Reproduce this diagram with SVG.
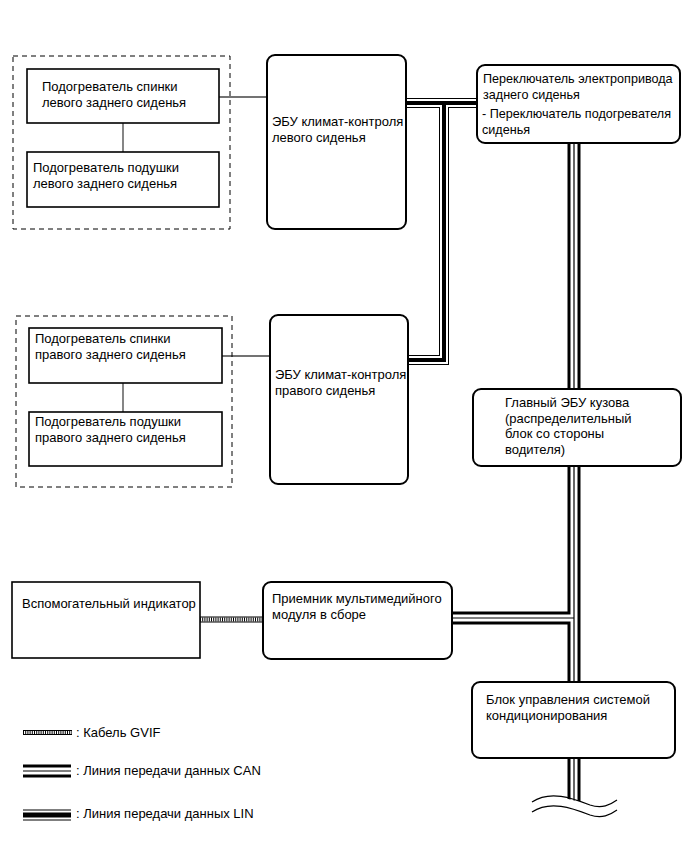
<svg xmlns="http://www.w3.org/2000/svg" width="686" height="856" viewBox="0 0 686 856">
<style>
text{font-family:"Liberation Sans",Arial,sans-serif;font-size:13px;fill:#000}
.sm{font-size:12.6px}
.sq{fill:#fff;stroke:#000;stroke-width:1.6}
.rd{fill:#fff;stroke:#000;stroke-width:2}
.dash{fill:none;stroke:#000;stroke-width:1;stroke-dasharray:5 4}
.thin{fill:none;stroke:#444;stroke-width:1.3}
.canA{fill:none;stroke:#000;stroke-width:13}
.canB{fill:none;stroke:#fff;stroke-width:7}
.canC{fill:none;stroke:#000;stroke-width:1.2}
.linA{fill:none;stroke:#000;stroke-width:10}
.linB{fill:none;stroke:#fff;stroke-width:8}
.linC{fill:none;stroke:#000;stroke-width:4}
.rail{fill:none;stroke:#000;stroke-width:1}
.rung{fill:none;stroke:#000;stroke-width:4;stroke-dasharray:1 1.2}
.wave{fill:none;stroke:#000;stroke-width:1.2}
</style>
<rect width="686" height="856" fill="#fff"/>
<g id="connectors">
  <line class="thin" x1="219" y1="97" x2="267" y2="97"/>
  <line class="thin" x1="123" y1="123" x2="123" y2="152"/>
  <line class="thin" x1="222" y1="356" x2="270" y2="356"/>
  <line class="thin" x1="123" y1="383" x2="123" y2="412"/>
  <g id="lin">
    <path class="linA" d="M406,103 H477 M444,103 V360 H408"/>
    <path class="linB" d="M406,103 H477 M444,103 V360 H408"/>
    <path class="linC" d="M406,103 H477 M444,103 V360 H408"/>
  </g>
  <g id="can">
    <path class="canA" d="M574,143 V801 M452,618 H574"/>
    <path class="canB" d="M574,143 V801 M452,618 H574"/>
    <path class="canC" d="M574,143 V801 M452,618 H574"/>
  </g>
  <g id="gvif">
    <line class="rung" x1="200" y1="619.5" x2="263" y2="619.5"/>
    <line class="rail" x1="200" y1="617" x2="263" y2="617"/>
    <line class="rail" x1="200" y1="622" x2="263" y2="622"/>
  </g>
  <g id="break">
    <path d="M530,806 C550,790 572,800 590,806 C602,810 610,806 618,801 L618,812 C610,816 602,820 590,816 C572,810 550,800 530,816 Z" fill="#fff"/>
    <path class="wave" d="M532,802 C550,790 572,798 590,805 C602,809 610,805 617,800"/>
    <path class="wave" d="M532,812 C550,800 572,808 590,815 C602,819 610,815 617,810"/>
  </g>
</g>
<g id="group-left">
  <rect class="dash" x="13" y="56" width="217" height="173"/>
</g>
<g id="heater-back-left">
  <rect class="sq" x="27" y="69" width="192" height="54"/>
  <text x="42" y="91">Подогреватель спинки</text>
  <text x="42" y="107">левого заднего сиденья</text>
</g>
<g id="heater-cushion-left">
  <rect class="sq" x="27" y="152" width="192" height="55"/>
  <text x="33" y="172">Подогреватель подушки</text>
  <text x="33" y="188">левого заднего сиденья</text>
</g>
<g id="ecu-left">
  <rect class="rd" x="267" y="55" width="139" height="174" rx="8"/>
  <text x="272" y="126">ЭБУ климат-контроля</text>
  <text x="272" y="142">левого сиденья</text>
</g>
<g id="rear-switch">
  <rect class="rd" x="477" y="65" width="203" height="78" rx="8"/>
  <text class="sm" x="483" y="83">Переключатель электропривода</text>
  <text class="sm" x="483" y="99">заднего сиденья</text>
  <text class="sm" x="482" y="118">- Переключатель подогревателя</text>
  <text class="sm" x="482" y="134">сиденья</text>
</g>
<g id="group-right">
  <rect class="dash" x="16" y="316" width="216" height="171"/>
</g>
<g id="heater-back-right">
  <rect class="sq" x="29" y="328" width="193" height="55"/>
  <text x="35" y="343">Подогреватель спинки</text>
  <text x="35" y="359">правого заднего сиденья</text>
</g>
<g id="heater-cushion-right">
  <rect class="sq" x="29" y="412" width="193" height="54"/>
  <text x="35" y="426">Подогреватель подушки</text>
  <text x="35" y="442">правого заднего сиденья</text>
</g>
<g id="ecu-right">
  <rect class="rd" x="270" y="315" width="138" height="169" rx="8"/>
  <text x="275" y="379">ЭБУ климат-контроля</text>
  <text x="275" y="395">правого сиденья</text>
</g>
<g id="main-body-ecu">
  <rect class="rd" x="473" y="389" width="208" height="77" rx="8"/>
  <text x="505" y="407">Главный ЭБУ кузова</text>
  <text x="505" y="423">(распределительный</text>
  <text x="505" y="438">блок со стороны</text>
  <text x="505" y="454">водителя)</text>
</g>
<g id="aux-indicator">
  <rect class="sq" x="12" y="582" width="188" height="76"/>
  <text x="22" y="608">Вспомогательный индикатор</text>
</g>
<g id="multimedia">
  <rect class="rd" x="263" y="582" width="189" height="77" rx="8"/>
  <text x="272" y="603">Приемник мультимедийного</text>
  <text x="272" y="619">модуля в сборе</text>
</g>
<g id="ac-control">
  <rect class="rd" x="472" y="682" width="203" height="76" rx="8"/>
  <text x="486" y="704">Блок управления системой</text>
  <text x="486" y="720">кондиционирования</text>
</g>
<g id="legend">
  <line class="rung" x1="23" y1="732.5" x2="72" y2="732.5"/>
  <line class="rail" x1="23" y1="730.5" x2="72" y2="730.5"/>
  <line class="rail" x1="23" y1="734.5" x2="72" y2="734.5"/>
  <text x="76" y="737">: Кабель GVIF</text>
  <path class="canA" d="M23,771 H71"/>
  <path class="canB" d="M23,771 H71"/>
  <path class="canC" d="M23,771 H71"/>
  <text x="76" y="775">: Линия передачи данных CAN</text>
  <path class="linA" d="M23,815 H71" style="stroke-width:11"/>
  <path class="linB" d="M23,815 H71" style="stroke-width:9"/>
  <path class="linC" d="M23,815 H71" style="stroke-width:5"/>
  <text x="76" y="818">: Линия передачи данных LIN</text>
</g>
</svg>
